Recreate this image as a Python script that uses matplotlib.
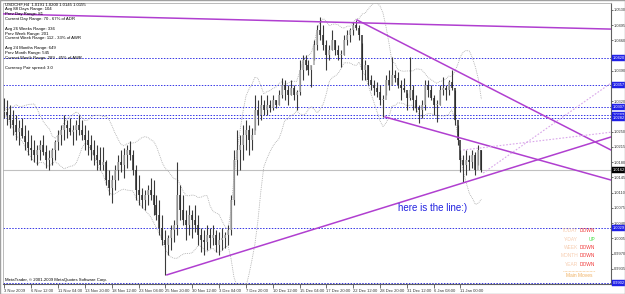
import matplotlib
matplotlib.use("Agg")
import matplotlib.pyplot as plt
import numpy as np
import pandas as pd
from matplotlib.patches import Rectangle

plt.rcParams['font.family'] = ['Liberation Sans', 'DejaVu Sans']

# ---------------- data (USDCHF H4, prices) ----------------
highs = [1.0328,1.0323,1.0312,1.0300,1.0289,1.0277,1.0282,1.0266,1.0254,1.0243,
         1.0231,1.0220,1.0231,1.0243,1.0220,1.0208,1.0213,1.0231,1.0254,1.0266,
         1.0289,1.0277,1.0282,1.0266,1.0277,1.0289,1.0277,1.0266,1.0254,1.0243,
         1.0231,1.0220,1.0215,1.0215,1.0185,1.0162,1.0151,1.0173,1.0197,1.0208,
         1.0213,1.0220,1.0229,1.0208,1.0173,1.0151,1.0121,1.0116,1.0128,1.0144,
         1.0139,1.0105,1.0093,1.0059,1.0024,1.0013,1.0036,1.0047,1.0180,1.0128,
         1.0105,1.0070,1.0082,1.0070,1.0082,1.0059,1.0029,1.0024,1.0036,1.0029,
         1.0036,1.0024,1.0019,1.0029,1.0019,1.0036,1.0105,1.0208,1.0254,1.0243,
         1.0266,1.0277,1.0266,1.0259,1.0334,1.0323,1.0334,1.0323,1.0334,1.0323,
         1.0334,1.0323,1.0346,1.0374,1.0369,1.0357,1.0369,1.0357,1.0346,1.0415,
         1.0426,1.0426,1.0415,1.0403,1.0461,1.0496,1.0514,1.0496,1.0461,1.0450,
         1.0484,1.0461,1.0450,1.0438,1.0473,1.0484,1.0489,1.0502,1.0507,1.0496,
         1.0454,1.0415,1.0403,1.0380,1.0369,1.0364,1.0357,1.0334,1.0380,1.0392,
         1.0422,1.0392,1.0387,1.0369,1.0374,1.0339,1.0422,1.0357,1.0334,1.0312,
         1.0323,1.0369,1.0369,1.0357,1.0334,1.0323,1.0357,1.0376,1.0357,1.0369,
         1.0392,1.0346,1.0266,1.0208,1.0197,1.0208,1.0197,1.0208,1.0203,1.0220,
         1.0208]
lows = [1.0282,1.0266,1.0259,1.0243,1.0231,1.0220,1.0236,1.0208,1.0197,1.0185,
        1.0180,1.0173,1.0185,1.0197,1.0167,1.0162,1.0173,1.0185,1.0208,1.0220,
        1.0231,1.0236,1.0243,1.0220,1.0231,1.0243,1.0231,1.0208,1.0197,1.0185,
        1.0173,1.0162,1.0162,1.0162,1.0128,1.0105,1.0086,1.0116,1.0139,1.0157,
        1.0144,1.0167,1.0185,1.0151,1.0093,1.0082,1.0075,1.0070,1.0082,1.0093,
        1.0059,1.0047,1.0013,0.9990,0.9921,0.9967,0.9978,0.9997,1.0013,1.0047,
        1.0036,1.0001,1.0013,1.0006,1.0019,0.9990,0.9973,0.9967,0.9978,0.9983,
        0.9990,0.9973,0.9967,0.9978,0.9983,0.9990,1.0013,1.0082,1.0151,1.0162,
        1.0185,1.0208,1.0197,1.0208,1.0254,1.0266,1.0277,1.0289,1.0289,1.0295,
        1.0300,1.0305,1.0312,1.0328,1.0323,1.0312,1.0334,1.0323,1.0300,1.0334,
        1.0369,1.0392,1.0380,1.0353,1.0415,1.0438,1.0461,1.0438,1.0392,1.0415,
        1.0438,1.0426,1.0415,1.0399,1.0426,1.0450,1.0456,1.0473,1.0484,1.0461,
        1.0369,1.0369,1.0357,1.0346,1.0334,1.0330,1.0312,1.0284,1.0334,1.0346,
        1.0357,1.0364,1.0351,1.0323,1.0341,1.0300,1.0323,1.0300,1.0295,1.0270,
        1.0282,1.0300,1.0330,1.0323,1.0289,1.0272,1.0312,1.0334,1.0323,1.0334,
        1.0346,1.0266,1.0220,1.0157,1.0135,1.0151,1.0162,1.0167,1.0151,1.0173,
        1.0157]
closes = [1.0295,1.0289,1.0277,1.0266,1.0249,1.0259,1.0240,1.0226,1.0213,1.0208,
          1.0197,1.0208,1.0220,1.0203,1.0185,1.0190,1.0208,1.0226,1.0243,1.0254,
          1.0266,1.0259,1.0249,1.0254,1.0266,1.0254,1.0243,1.0231,1.0220,1.0208,
          1.0197,1.0185,1.0173,1.0180,1.0139,1.0121,1.0139,1.0162,1.0180,1.0173,
          1.0197,1.0208,1.0197,1.0162,1.0116,1.0105,1.0093,1.0105,1.0116,1.0105,
          1.0082,1.0059,1.0029,1.0001,0.9990,1.0006,1.0024,1.0036,1.0105,1.0070,
          1.0047,1.0036,1.0059,1.0047,1.0036,1.0013,1.0001,0.9997,1.0013,1.0006,
          1.0013,0.9990,1.0001,1.0006,1.0013,1.0024,1.0093,1.0185,1.0208,1.0220,
          1.0243,1.0254,1.0231,1.0243,1.0300,1.0289,1.0312,1.0300,1.0312,1.0305,
          1.0323,1.0312,1.0334,1.0357,1.0346,1.0334,1.0351,1.0334,1.0341,1.0392,
          1.0415,1.0403,1.0392,1.0403,1.0450,1.0484,1.0473,1.0450,1.0426,1.0438,
          1.0461,1.0438,1.0426,1.0426,1.0461,1.0473,1.0484,1.0496,1.0489,1.0473,
          1.0392,1.0403,1.0369,1.0357,1.0351,1.0341,1.0323,1.0323,1.0369,1.0357,
          1.0380,1.0374,1.0357,1.0351,1.0346,1.0328,1.0346,1.0323,1.0305,1.0300,
          1.0312,1.0357,1.0346,1.0328,1.0312,1.0312,1.0346,1.0351,1.0346,1.0364,
          1.0351,1.0277,1.0231,1.0185,1.0173,1.0185,1.0180,1.0197,1.0162,1.0208,
          1.0162]

# horizontal levels
blue_levels = [1.0420, 1.0357, 1.0307, 1.0289, 1.0282, 1.0029, 0.9902]
current_price = 1.0162

# trend lines: (bar, price) endpoints
trend_solid = [((-0.5, 1.0521), (203.5, 1.0486)),
               ((118.3, 1.0507), (203.5, 1.0208)),
               ((127.7, 1.0284), (203.5, 1.0139)),
               ((54.5, 0.9921), (203.5, 1.0238))]
trend_dotted = [((153.9, 1.0208), (203.5, 1.0249)),
                ((160.6, 1.0155), (203.5, 1.0362))]

price_ticks = [1.0530, 1.0495, 1.0460, 1.0425, 1.0390, 1.0355, 1.0320, 1.0285,
               1.0250, 1.0215, 1.0180, 1.0145, 1.0110, 1.0075, 1.0040, 1.0005,
               0.9970, 0.9935]
time_labels = ["3 Nov 2009", "6 Nov 12:00", "11 Nov 04:00", "13 Nov 20:00",
               "18 Nov 12:00", "23 Nov 04:00", "25 Nov 20:00", "30 Nov 12:00",
               "3 Dec 04:00", "7 Dec 20:00", "10 Dec 12:00", "15 Dec 04:00",
               "17 Dec 20:00", "22 Dec 12:00", "28 Dec 20:00", "31 Dec 12:00",
               "6 Jan 08:00", "11 Jan 00:00"]

info_lines = ["USDCHF,H4  1.0191 1.0200 1.0145 1.0155",
              "Avg 88 Days Range: 104",
              "Prev Day Range: 81",
              "Current Day Range: 70 - 67% of ADR",
              "",
              "Avg 26 Weeks Range: 336",
              "Prev Week Range: 201",
              "Current Week Range: 112 - 33% of AWR",
              "",
              "Avg 24 Months Range: 649",
              "Prev Month Range: 545",
              "Current Month Range: 289 - 45% of AMR",
              "",
              "Currency Pair spread: 3.0"]

moves_labels = ["TODAY", "Y-DAY", "WEEK", "MONTH", "YEAR"]
moves_values = ["DOWN", "UP", "DOWN", "DOWN", "DOWN"]

# ---------------- figure ----------------
W, H = 625, 294
fig = plt.figure(figsize=(W / 100, H / 100), dpi=100)
fig.patch.set_facecolor("white")
ax = fig.add_axes([3 / W, (H - 284) / H, 608 / W, 281 / H])
ax.set_facecolor("white")

n = len(highs)
x = np.arange(n)
ymin, ymax = 0.9900, 1.0546
ax.set_xlim(-0.5, 203.5)
ax.set_ylim(ymin, ymax)

PURPLE = "#B03FD0"
BLUE = "#3535E6"

# horizontal blue dotted levels
for lv in blue_levels:
    ax.axhline(lv, color=BLUE, lw=0.7, ls=(0, (1.5, 1.5)), zorder=1)
ax.axhline(current_price, color="#C0C0C0", lw=0.8, zorder=1)

# Bollinger bands
cs = pd.Series(closes)
mid = cs.rolling(11, min_periods=1).mean()
sd = cs.rolling(11, min_periods=2).std().bfill()
ax.plot(x, mid + 2 * sd, color="#A8A8A8", lw=0.6, ls=(0, (1, 1.2)), zorder=2)
ax.plot(x, mid - 2 * sd, color="#A8A8A8", lw=0.6, ls=(0, (1, 1.2)), zorder=2)

# candles (open = previous close)
opens = [closes[0]] + closes[:-1]
for i in range(n):
    ax.vlines(i, lows[i], highs[i], color="#3A3A3A", lw=0.8, zorder=3)
    bull = closes[i] >= opens[i]
    lo, hi = sorted([opens[i], closes[i]])
    ax.vlines(i, lo, hi if hi > lo else hi + 0.0002,
              color="#A8A8A8" if bull else "#2A2A2A", lw=1.1, zorder=4)

# trend lines
for (x0, y0), (x1, y1) in trend_solid:
    ax.plot([x0, x1], [y0, y1], color=PURPLE, lw=1.1, zorder=5)
for (x0, y0), (x1, y1) in trend_dotted:
    ax.plot([x0, x1], [y0, y1], color="#D9A6EA", lw=0.8, ls=(0, (1.5, 1.5)), zorder=5)

# axes styling
for s in ["top", "left"]:
    ax.spines[s].set_color("#B0B0B0")
    ax.spines[s].set_linewidth(0.6)
for s in ["right", "bottom"]:
    ax.spines[s].set_color("#606060")
    ax.spines[s].set_linewidth(0.8)

# price labels hidden under the level boxes (as the boxes cover them)
boxed = blue_levels + [current_price]
span = ymax - ymin
def tick_text(p):
    if any(abs(p - b) / span * 281 < 4.5 for b in boxed):
        return ""
    return f"{p:.4f}"

ax.yaxis.tick_right()
ax.set_yticks(price_ticks)
ax.set_yticklabels([tick_text(p) for p in price_ticks])
ax.tick_params(axis="y", labelsize=2.9, length=1.5, width=0.5, pad=0.8,
               colors="#333333", direction="out")
tick_pos = [9 * k for k in range(len(time_labels))]
ax.set_xticks(tick_pos)
ax.set_xticklabels(time_labels, ha="left")
ax.tick_params(axis="x", labelsize=3.0, length=3, width=0.5, pad=0.8,
               colors="#333333", direction="out")

# right price boxes
def price_box(val, fc):
    ax.annotate(f"{val:.4f}", xy=(1.0, val), xycoords=("axes fraction", "data"),
                xytext=(1.4, 0), textcoords="offset points", fontsize=2.9,
                color="white", va="center", ha="left",
                bbox=dict(boxstyle="square,pad=0.2", fc=fc, ec=fc, lw=0.3),
                annotation_clip=False, zorder=10)

for lv in blue_levels:
    price_box(lv, "#2020E8")
price_box(current_price, "#000000")

# info text top-left
for k, line in enumerate(info_lines):
    if line:
        fig.text(5 / W, 1 - (4.5 + k * 4.85) / H, line, fontsize=3.05,
                 color="#000000", va="center", ha="left")

# copyright
fig.text(5 / W, 1 - 280.5 / H, "MetaTrader, \u00a9 2001-2009 MetaQuotes Software Corp.",
         fontsize=3.05, color="#000000", va="center", ha="left")

# annotation
fig.text(398 / W, 1 - 208 / H, "here is the line:)", fontsize=7.0,
         color="#2222E0", va="center", ha="left")

# main moves block
for k, (lab, val) in enumerate(zip(moves_labels, moves_values)):
    yy = 1 - (231 + k * 8.3) / H
    fig.text(578 / W, yy, lab, fontsize=3.5, color="#F7CDB0", ha="right", va="center")
    fig.text(595 / W, yy, val, fontsize=3.5,
             color="#44DD44" if val == "UP" else "#F03A3A", ha="right", va="center")
fig.add_artist(plt.Line2D([563 / W, 595 / W], [1 - 270.5 / H, 1 - 270.5 / H],
                          color="#F3B870", lw=0.5, ls=(0, (1, 1))))
fig.text(579 / W, 1 - 275.5 / H, "Main Moves", fontsize=3.5, color="#F0B060",
         ha="center", va="center")

# outer frame
fig.add_artist(Rectangle((0, 0), 1, 1, transform=fig.transFigure, fill=False,
                         ec="#A0A0A0", lw=1.0))

fig.savefig("out.png", dpi=100, facecolor="white")
